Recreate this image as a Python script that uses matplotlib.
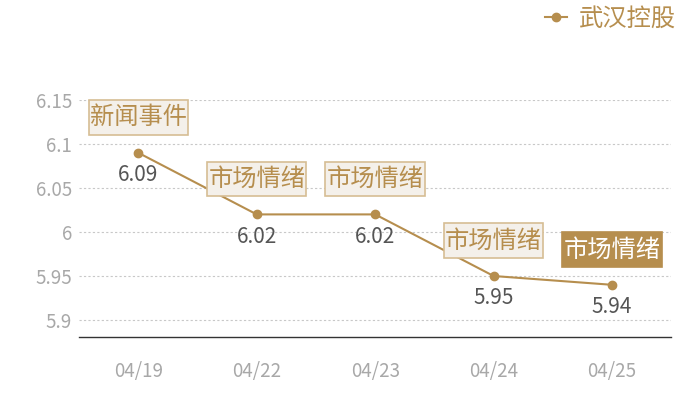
import matplotlib
matplotlib.use('Agg')
import matplotlib.pyplot as plt

plt.rcParams['font.family'] = ['Noto Sans CJK SC', 'DejaVu Sans']

dates = ['04/19', '04/22', '04/23', '04/24', '04/25']
prices = [6.09, 6.02, 6.02, 5.95, 5.94]
events = ['新闻事件', '市场情绪', '市场情绪', '市场情绪', '市场情绪']
series_name = '武汉控股'
yticks = [5.9, 5.95, 6, 6.05, 6.1, 6.15]
ytick_labels = ['5.9', '5.95', '6', '6.05', '6.1', '6.15']

gold = '#b68e4e'
grey = '#a8a8a8'

fig = plt.figure(figsize=(7, 4), dpi=100)
ax = fig.add_axes([0.113, 0.1575, 0.846, 0.5925])

xs = list(range(len(dates)))
line, = ax.plot(xs, prices, color=gold, lw=1.5, marker='o', markersize=6, label=series_name)

ax.set_xlim(-0.5, 4.5)
ax.set_ylim(5.8807, 6.15)
ax.set_yticks(yticks)
ax.set_yticklabels(ytick_labels)
ax.set_xticks(xs)
ax.set_xticklabels(dates)
ax.tick_params(axis='both', length=0, colors=grey, labelsize=13.5)
ax.tick_params(axis='x', pad=17)
ax.tick_params(axis='y', pad=5)
ax.grid(axis='y', color='#c8c8c8', linestyle=(0, (2, 2)), lw=0.8)
ax.set_axisbelow(True)
for s in ['top', 'left', 'right']:
    ax.spines[s].set_visible(False)
ax.spines['bottom'].set_color('#333333')
ax.spines['bottom'].set_linewidth(1)

for i, (x, y) in enumerate(zip(xs, prices)):
    ax.annotate(f'{y:.2f}', (x, y), xytext=(0, -16), textcoords='offset points',
                ha='center', va='center', fontsize=15, color='#555555')
    last = i == len(xs) - 1
    # taller padding vertically than horizontally via mutation_aspect
    ax.annotate(events[i], (x, y), xytext=(0, 25.5), textcoords='offset points',
                ha='center', va='center', fontsize=17.5,
                color='white' if last else gold, annotation_clip=False,
                bbox=dict(boxstyle='square,pad=0.05', mutation_aspect=3.5,
                          fc=gold if last else '#f4f0ea',
                          ec=gold if last else '#d6bd94', lw=1.2))

leg = fig.legend(handles=[line], loc='upper right', bbox_to_anchor=(0.997, 1.04),
                 frameon=False, fontsize=17.5, handlelength=0.9, handletextpad=0.5)
for t in leg.get_texts():
    t.set_color(gold)

plt.savefig('out.png', dpi=100)
